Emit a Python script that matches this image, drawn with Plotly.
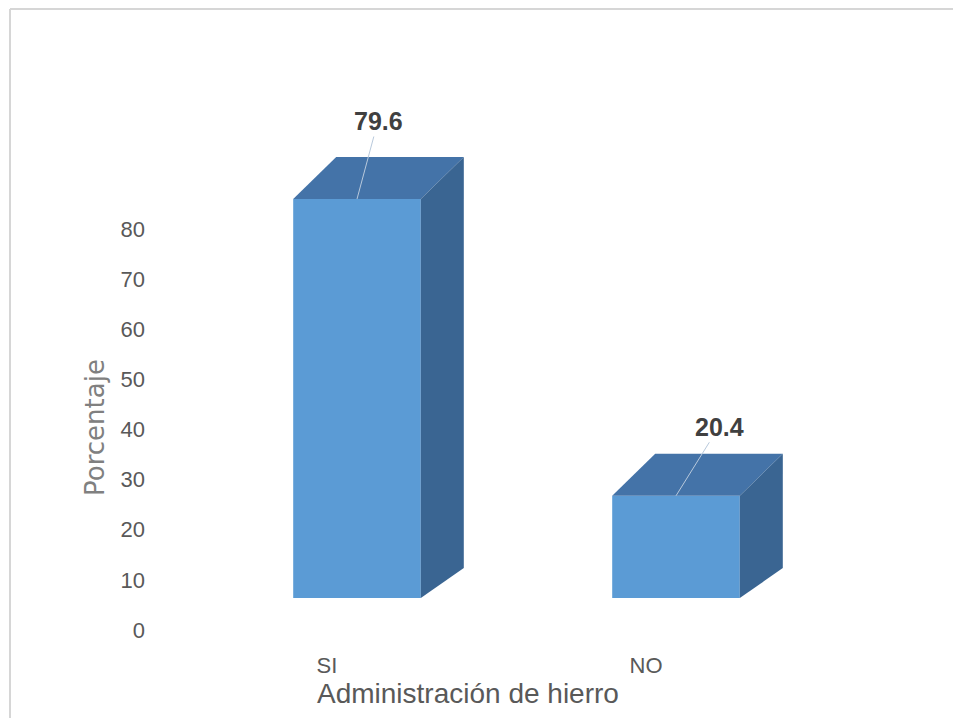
import plotly.graph_objects as go

# ---- data ----
categories = ["SI", "NO"]
values = [79.6, 20.4]
y_ticks = [0, 10, 20, 30, 40, 50, 60, 70, 80]
x_title = "Administración de hierro"
y_title = "Porcentaje"

# ---- style / geometry (viewport pixel targets) ----
OFF = 8                          # default body margin of the html page
VW, VH = 961, 718
W, H = VW - OFF, VH - OFF
PLOT_L, PLOT_T, PLOT_B = 150, 20, 650   # viewport pixels
PX_PER_UNIT_Y = 5.0125
ZERO_PX = 630
PX_PER_CAT = 319
FIRST_CAT_PX = 357
BAR_W = 0.40
BASE = 6.38
DEPTH_X = 43 / PX_PER_CAT
DEPTH_TOP = 42 / PX_PER_UNIT_Y
DEPTH_BOT = 30 / PX_PER_UNIT_Y
FRONT = "#5B9BD5"
TOP = "#4473A8"
SIDE = "#3A6592"
label_ax = [21, 43]
label_ay = [-78, -69]

ML = PLOT_L - OFF
MT = PLOT_T - OFF
MB = VH - PLOT_B
MR = 0
plot_h = H - MT - MB
plot_w = W - ML - MR
y_lo = (ZERO_PX - PLOT_B) / PX_PER_UNIT_Y
y_hi = (ZERO_PX - PLOT_T) / PX_PER_UNIT_Y
x_lo = (PLOT_L - FIRST_CAT_PX) / PX_PER_CAT
x_hi = (VW - FIRST_CAT_PX) / PX_PER_CAT

def px(x):
    return (x - PLOT_L) / plot_w

def py(y):
    return (PLOT_B - y) / plot_h

xs = list(range(len(categories)))

fig = go.Figure()
fig.add_trace(go.Bar(x=xs, y=values, base=[BASE] * len(values), width=BAR_W,
                     marker=dict(color=FRONT, line=dict(width=0)), hoverinfo="skip"))

for i, v in zip(xs, values):
    l, r = i - BAR_W / 2, i + BAR_W / 2
    top = BASE + v
    fig.add_trace(go.Scatter(
        x=[l, l + DEPTH_X, r + DEPTH_X, r, l],
        y=[top, top + DEPTH_TOP, top + DEPTH_TOP, top, top],
        fill="toself", fillcolor=TOP, mode="lines", line=dict(width=0, color=TOP),
        hoverinfo="skip"))
    fig.add_trace(go.Scatter(
        x=[r, r, r + DEPTH_X, r + DEPTH_X, r],
        y=[BASE, top, top + DEPTH_TOP, BASE + DEPTH_BOT, BASE],
        fill="toself", fillcolor=SIDE, mode="lines", line=dict(width=0, color=SIDE),
        hoverinfo="skip"))

annotations = []
for i, v, ax, ay in zip(xs, values, label_ax, label_ay):
    annotations.append(dict(
        x=i, y=BASE + v, xref="x", yref="y", text=f"<b>{v}</b>",
        showarrow=True, arrowhead=0, arrowwidth=1, arrowcolor="#b8c9dc",
        ax=ax, ay=ay, standoff=0,
        font=dict(family="Liberation Sans, Arial, sans-serif", size=25, color="#404040")))

annotations.append(dict(
    x=px(95), y=py(428), xref="paper", yref="paper", text=y_title, textangle=-90,
    showarrow=False, xanchor="center", yanchor="middle",
    font=dict(family="DejaVu Sans, sans-serif", size=26, color="#808080")))
annotations.append(dict(
    x=px(468), y=py(693), xref="paper", yref="paper", text=x_title,
    showarrow=False, xanchor="center", yanchor="middle",
    font=dict(family="Liberation Sans, Arial, sans-serif", size=28, color="#595959")))

shapes = [
    dict(type="line", xref="paper", yref="paper", x0=px(10), x1=px(VW), y0=py(9), y1=py(9),
         line=dict(color="#d6d6d6", width=2)),
    dict(type="line", xref="paper", yref="paper", x0=px(10), x1=px(10), y0=py(9), y1=py(VH),
         line=dict(color="#d6d6d6", width=2)),
]

fig.update_layout(
    width=W, height=H,
    margin=dict(l=ML, r=MR, t=MT, b=MB, pad=0),
    paper_bgcolor="white", plot_bgcolor="white",
    showlegend=False,
    annotations=annotations, shapes=shapes,
    xaxis=dict(range=[x_lo, x_hi], tickvals=xs, ticktext=categories,
               showgrid=False, zeroline=False, showline=False, ticks="",
               ticklabelshift=-30,
               tickfont=dict(family="Liberation Sans, Arial, sans-serif", size=22, color="#595959")),
    yaxis=dict(range=[y_lo, y_hi], tickvals=y_ticks,
               showgrid=False, zeroline=False, showline=False, ticks="",
               ticklabelstandoff=4,
               tickfont=dict(family="Liberation Sans, Arial, sans-serif", size=22, color="#595959")),
)

fig.write_html("out.html")
